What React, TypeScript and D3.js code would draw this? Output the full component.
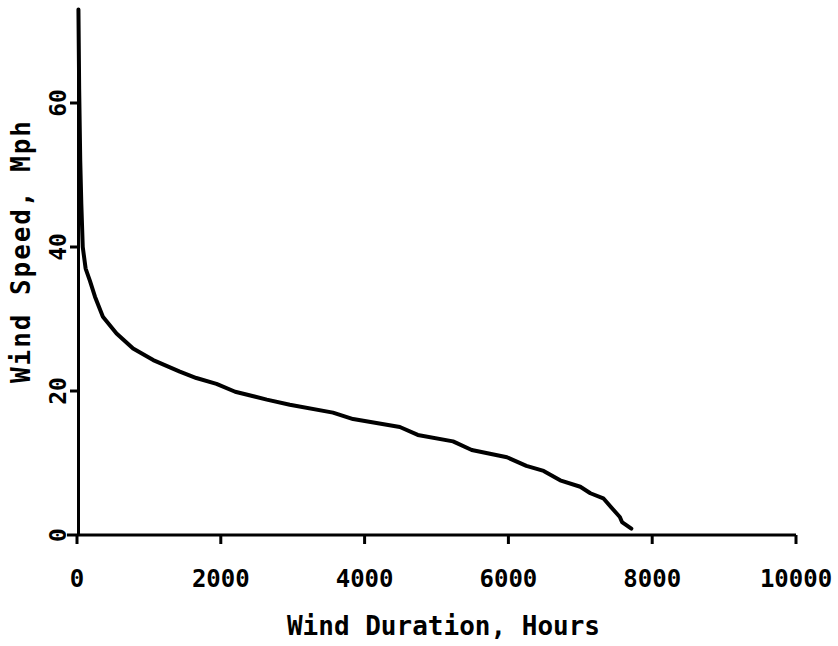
import React from "react";
import * as d3 from "d3";

const hours = [20, 30, 45, 60, 80, 120, 180, 250, 360, 550, 780, 1060, 1430, 1660, 1940, 2200, 2640, 2960, 3560, 3840, 4490, 4740, 5230, 5490, 5980, 6250, 6490, 6720, 7000, 7140, 7320, 7460, 7550, 7580, 7710];
const mph = [73, 62, 52, 46, 40, 37, 35.3, 33.1, 30.3, 28, 25.9, 24.3, 22.7, 21.8, 21, 19.9, 18.8, 18.1, 17, 16.1, 15, 13.9, 13, 11.8, 10.8, 9.6, 8.9, 7.6, 6.7, 5.8, 5.1, 3.5, 2.5, 1.8, 0.9];
const xTicks = [0, 2000, 4000, 6000, 8000, 10000];
const xTickLabels = ["0", "2000", "4000", "6000", "8000", "10000"];
const yTicks = [0, 20, 40, 60];
const yTickLabels = ["0", "20", "40", "60"];
const yTop = 73;

const W = 838;
const H = 646;
const FONT = "'DejaVu Sans Mono', 'Liberation Mono', monospace";

export default function App() {
  const x = d3.scaleLinear().domain([0, 10000]).range([77, 796]);
  const y = d3.scaleLinear().domain([0, 60]).range([535, 103]);
  const data = hours.map((h, i) => [h, mph[i]] as [number, number]);
  const line = d3
    .line<[number, number]>()
    .x((d) => x(d[0]))
    .y((d) => y(d[1]));

  return (
    <svg
      width={W}
      height={H}
      viewBox={`0 0 ${W} ${H}`}
      style={{ position: "absolute", left: 0, top: 0, background: "#fff" }}
    >
      <rect x={0} y={0} width={W} height={H} fill="#fff" />
      {/* axes */}
      <line x1={x(0) - 10} x2={x(10000)} y1={y(0)} y2={y(0)} stroke="#000" strokeWidth={3} />
      <line x1={x(0) + 1.5} x2={x(0) + 1.5} y1={y(0)} y2={y(yTop)} stroke="#000" strokeWidth={3} />
      {xTicks.map((t, i) => (
        <g key={"xt" + t}>
          <line x1={x(t)} x2={x(t)} y1={y(0)} y2={y(0) + 9} stroke="#000" strokeWidth={3} />
          <text
            x={x(t)}
            y={587}
            textAnchor="middle"
            fontFamily={FONT}
            fontWeight="bold"
            fontSize={24}
            fill="#000"
          >
            {xTickLabels[i]}
          </text>
        </g>
      ))}
      {yTicks.map((t, i) => (
        <g key={"yt" + t}>
          {t > 0 && (
            <line x1={x(0) - 7} x2={x(0) + 1.5} y1={y(t)} y2={y(t)} stroke="#000" strokeWidth={3} />
          )}
          <text
            transform={`translate(58,${y(t)}) rotate(-90)`}
            dy="0.36em"
            textAnchor="middle"
            fontFamily={FONT}
            fontWeight="bold"
            fontSize={23}
            fill="#000"
          >
            {yTickLabels[i]}
          </text>
        </g>
      ))}
      {/* curve */}
      <path d={line(data) || ""} fill="none" stroke="#000" strokeWidth={4} strokeLinejoin="round" strokeLinecap="round" />
      {/* axis titles */}
      <text
        x={(x(0) + x(10000)) / 2 + 7}
        y={635}
        textAnchor="middle"
        fontFamily={FONT}
        fontWeight="bold"
        fontSize={26}
        fill="#000"
      >
        Wind Duration, Hours
      </text>
      <text
        transform={`translate(21,252) rotate(-90)`}
        dy="0.36em"
        textAnchor="middle"
        fontFamily={FONT}
        fontWeight="bold"
        fontSize={26}
        textLength={262}
        lengthAdjust="spacing"
        fill="#000"
      >
        Wind Speed, Mph
      </text>
    </svg>
  );
}
